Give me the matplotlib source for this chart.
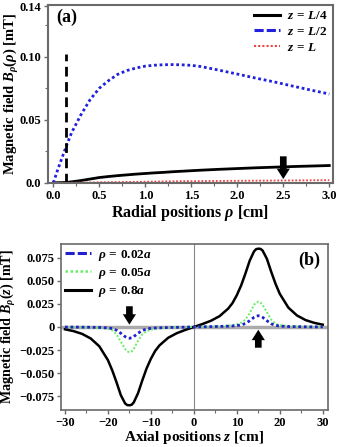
import matplotlib
matplotlib.use("Agg")
import matplotlib.pyplot as plt
import numpy as np
from matplotlib.lines import Line2D

plt.rcParams['font.family'] = ['Liberation Serif', 'DejaVu Serif']
plt.rcParams['font.weight'] = 'bold'
plt.rcParams['axes.labelweight'] = 'bold'
plt.rcParams['mathtext.fontset'] = 'custom'
plt.rcParams['mathtext.rm'] = 'Liberation Serif:bold'
plt.rcParams['mathtext.it'] = 'Liberation Serif:bold:italic'
plt.rcParams['mathtext.bf'] = 'Liberation Serif:bold'

# ---------- Panel (a) data ----------
rho_cm = [0, 0.05, 0.1, 0.15, 0.2, 0.3, 0.4, 0.5, 0.6, 0.7, 0.8, 0.9, 1.0, 1.1, 1.2,
          1.3, 1.4, 1.5, 1.6, 1.8, 2.0, 2.2, 2.4, 2.6, 2.8, 3.0]
b_L4 = [0, 0.0001, 0.0002, 0.0004, 0.0008, 0.0018, 0.003, 0.0042, 0.005, 0.0057, 0.0063,
        0.0069, 0.0074, 0.0079, 0.0083, 0.0088, 0.0092, 0.0096, 0.0100, 0.0107, 0.0113,
        0.0119, 0.0124, 0.0129, 0.0133, 0.0137]
b_L2 = [0, 0.011, 0.021, 0.031, 0.040, 0.054, 0.066, 0.075, 0.081, 0.086, 0.089, 0.091,
        0.0925, 0.0932, 0.0936, 0.0937, 0.0935, 0.0931, 0.0922, 0.0893, 0.0862, 0.083,
        0.080, 0.0767, 0.0735, 0.0704]
b_L = [0, 0.0, 0.0, 0.0001, 0.0001, 0.0002, 0.0003, 0.0004, 0.0005, 0.0006, 0.0007, 0.0008,
       0.0009, 0.0010, 0.0011, 0.0012, 0.0013, 0.0013, 0.0014, 0.0015, 0.0016, 0.0017,
       0.0018, 0.0019, 0.0020, 0.0021]
labels_a = [r'$z\,=\,L/4$', r'$z\,=\,L/2$', r'$z\,=\,L$']
xticks_a = [0.0, 0.5, 1.0, 1.5, 2.0, 2.5, 3.0]
yticks_a = [0.0, 0.05, 0.10, 0.14]
ytick_labels_a = ['0.0', '0.05', '0.10', '0.14']
rho_marker = 0.135
marker_top = 0.102
arrow_a_x = 2.5
arrow_a_y = [0.021, 0.0030]

# ---------- Panel (b) data ----------
z_cm = [-30, -28, -26, -24, -22, -20, -19, -18, -17, -16, -15.5, -15, -14.5, -14, -13, -12,
        -11, -10, -9, -8, -6, -4, -2, 0, 2, 4, 6, 8, 9, 10, 11, 12, 13, 14, 14.5, 15, 15.5,
        16, 17, 18, 19, 20, 22, 24, 26, 28, 30]
b_08a = [-0.0025, -0.0045, -0.0075, -0.0125, -0.021, -0.036, -0.047, -0.060, -0.074,
         -0.083, -0.0848, -0.085, -0.0845, -0.082, -0.072, -0.058, -0.045, -0.0345, -0.026,
         -0.020, -0.0118, -0.0068, -0.0032, 0.0, 0.0032, 0.0068, 0.0118, 0.020, 0.026,
         0.0345, 0.045, 0.058, 0.072, 0.082, 0.0845, 0.085, 0.0848, 0.083, 0.074, 0.060,
         0.047, 0.036, 0.021, 0.0125, 0.0075, 0.0045, 0.0025]
b_005a = [-0.0002, -0.0003, -0.0004, -0.0006, -0.001, -0.002, -0.0035, -0.008, -0.016,
          -0.024, -0.0265, -0.0275, -0.0265, -0.024, -0.015, -0.008, -0.0045, -0.003,
          -0.002, -0.0014, -0.0008, -0.0005, -0.0002, 0.0, 0.0002, 0.0005, 0.0008, 0.0014,
          0.002, 0.003, 0.0045, 0.008, 0.015, 0.024, 0.0265, 0.0275, 0.0265, 0.024, 0.016,
          0.008, 0.0035, 0.002, 0.001, 0.0006, 0.0004, 0.0003, 0.0002]
b_002a = [-0.0001, -0.0001, -0.0002, -0.0003, -0.0005, -0.001, -0.0017, -0.0035, -0.0068,
          -0.0105, -0.0118, -0.0122, -0.0118, -0.0105, -0.0068, -0.0038, -0.0022, -0.0015,
          -0.0011, -0.0009, -0.0006, -0.0004, -0.0002, 0.0, 0.0002, 0.0004, 0.0006, 0.0009,
          0.0011, 0.0015, 0.0022, 0.0038, 0.0068, 0.0105, 0.0118, 0.0122, 0.0118, 0.0105,
          0.0068, 0.0035, 0.0017, 0.001, 0.0005, 0.0003, 0.0002, 0.0001, 0.0001]
labels_b = [r'$\rho\,=\,0.02a$', r'$\rho\,=\,0.05a$', r'$\rho\,=\,0.8a$']
xticks_b = [-30, -20, -10, 0, 10, 20, 30]
xtick_labels_b = ['\u221230', '\u221220', '\u221210', '0', '10', '20', '30']
yticks_b = [-0.075, -0.050, -0.025, 0, 0.025, 0.050, 0.075]
ytick_labels_b = ['\u22120.075', '\u22120.050', '\u22120.025', '0', '0.025', '0.050', '0.075']
arrow_b_down = (-15, 0.0225, 0.0025)
arrow_b_up = (15, -0.0225, -0.003)

fig = plt.figure(figsize=(3.37, 4.47), dpi=100)
spine_col = '#6a6a6a'
arrow_style = 'simple,head_width=0.95,head_length=0.75,tail_width=0.48'

# ---------- Panel (a) ----------
ax1 = fig.add_axes([0.142, 0.591, 0.846, 0.398])
ax1.plot(rho_cm, b_L4, color='black', lw=2.0)
ax1.plot(rho_cm, b_L2, color='#2020dd', lw=2.0, ls=(0, (1, 1)))
ax1.plot(rho_cm, b_L, color='#ee4444', lw=1.3, ls=(0, (1, 1)))
ax1.plot([rho_marker, rho_marker], [0, marker_top], color='black', lw=2.0, ls=(0, (3.5, 2)))
ax1.annotate('', xy=(arrow_a_x, arrow_a_y[1]), xytext=(arrow_a_x, arrow_a_y[0]),
             arrowprops=dict(arrowstyle=arrow_style, color='black', lw=0,
                             shrinkA=0, shrinkB=0))
ax1.set_xlim(-0.06, 3.04)
ax1.set_ylim(0, 0.141)
ax1.set_xticks(xticks_a)
ax1.set_xticklabels([f'{v:.1f}' for v in xticks_a])
ax1.set_xticks(np.arange(0.25, 3.0, 0.5), minor=True)
ax1.set_yticks(yticks_a)
ax1.set_yticklabels(ytick_labels_a)
ax1.set_yticks([0.025, 0.075, 0.125], minor=True)
ax1.tick_params(labelsize=9, length=3, width=1, color=spine_col, pad=2)
ax1.tick_params(which='minor', length=2, width=0.8, color=spine_col)
for s in ax1.spines.values():
    s.set_color(spine_col)
    s.set_linewidth(1.5)
ax1.set_xlabel(r'Radial positions $\rho$ [cm]', fontsize=11.5, labelpad=1)
ax1.set_ylabel(r'Magnetic field $B_{\rho}(\rho)$ [mT]', fontsize=10.5)
ax1.yaxis.set_label_coords(-0.095, 0.5)
ax1.text(0.03, 0.93, '(a)', transform=ax1.transAxes, fontsize=13, fontweight='bold',
         va='center', ha='left')
h_a = [Line2D([], [], color='black', lw=2.2),
       Line2D([], [], color='#2020dd', lw=2.2, ls=(0, (3, 1))),
       Line2D([], [], color='#ee4444', lw=1.5, ls=(0, (1, 1)))]
ax1.legend(h_a, labels_a, loc='upper right', frameon=False, fontsize=9.5,
           handlelength=2.0, handletextpad=0.5, labelspacing=0.25,
           borderaxespad=0.2, borderpad=0.2)

# ---------- Panel (b) ----------
ax2 = fig.add_axes([0.180, 0.082, 0.793, 0.373])
ax2.axhline(0, color='#aaaaaa', lw=2.5, zorder=1)
ax2.axvline(0, color='#888888', lw=0.8, zorder=1)
ax2.plot(z_cm, b_002a, color='#2020cc', lw=2.0, ls=(0, (1, 1)), zorder=4)
ax2.plot(z_cm, b_005a, color='#66ee66', lw=1.4, ls=(0, (1, 1)), zorder=3)
ax2.plot(z_cm, b_08a, color='black', lw=1.8, zorder=2)
for (xa, y0, y1) in [arrow_b_down, arrow_b_up]:
    ax2.annotate('', xy=(xa, y1), xytext=(xa, y0),
                 arrowprops=dict(arrowstyle=arrow_style, color='black', lw=0,
                                 shrinkA=0, shrinkB=0))
ax2.set_xlim(-31, 31.2)
ax2.set_ylim(-0.0905, 0.0905)
ax2.set_xticks(xticks_b)
ax2.set_xticklabels(xtick_labels_b)
ax2.set_xticks(np.arange(-25, 30, 5), minor=True)
ax2.set_yticks(yticks_b)
ax2.set_yticklabels(ytick_labels_b)
ax2.tick_params(labelsize=9, length=3, width=1, color=spine_col, pad=1.5)
ax2.tick_params(which='minor', length=2, width=0.8, color=spine_col)
for s in ax2.spines.values():
    s.set_color(spine_col)
    s.set_linewidth(1.2)
ax2.set_xlabel(r'Axial positions $z$ [cm]', fontsize=11, labelpad=0)
ax2.set_ylabel(r'Magnetic field $B_{\rho}(z)$ [mT]', fontsize=10.2)
ax2.yaxis.set_label_coords(-0.158, 0.5)
ax2.text(0.97, 0.90, '(b)', transform=ax2.transAxes, fontsize=13, fontweight='bold',
         va='center', ha='right')
h_b = [Line2D([], [], color='#2020cc', lw=2.2, ls=(0, (3, 1))),
       Line2D([], [], color='#66ee66', lw=1.8, ls=(0, (1, 1))),
       Line2D([], [], color='black', lw=2.2)]
ax2.legend(h_b, labels_b, loc='upper left', frameon=False, fontsize=9.5,
           handlelength=2.0, handletextpad=0.5, labelspacing=0.25,
           borderaxespad=0.1, borderpad=0.2)

fig.savefig('out.png', dpi=100)
